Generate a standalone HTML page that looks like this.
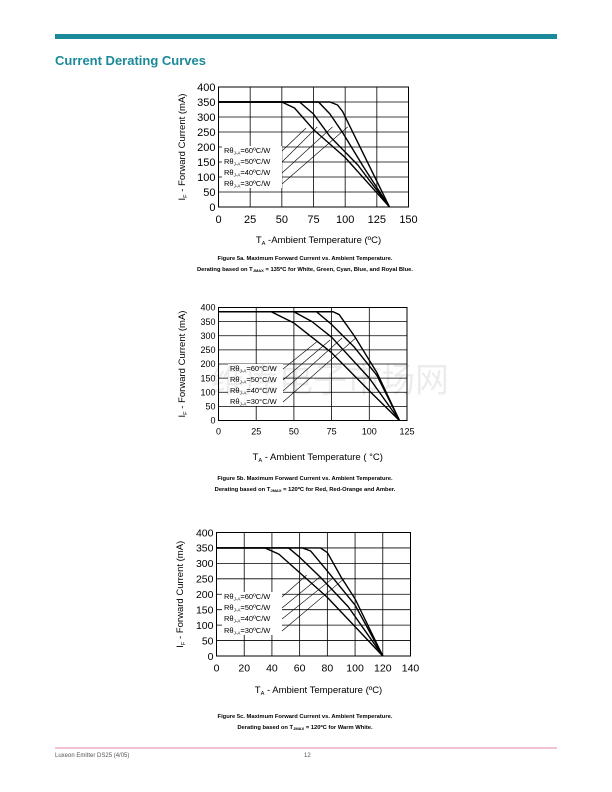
<!DOCTYPE html>
<html><head><meta charset="utf-8"><style>
body{margin:0;background:#fff;}
svg{display:block;font-family:"Liberation Sans","Noto Sans CJK SC",sans-serif;}
</style></head><body>
<svg id="page" width="612" height="792" viewBox="0 0 612 792">
<rect x="0" y="0" width="612" height="792" fill="#fff"/>
<rect x="55" y="34" width="502" height="5" fill="#1a8a9a"/>
<text x="55" y="65" font-size="13" font-weight="bold" fill="#1a8a9a">Current Derating Curves</text>
<line x1="55" y1="748" x2="557" y2="748" stroke="#e05a8a" stroke-width="0.8"/>
<text x="55" y="757" font-size="6" fill="#555">Luxeon Emitter  DS25  (4/05)</text>
<text x="304" y="757" font-size="6" fill="#555">12</text>
<g id="charts"></g>
<text x="330" y="392" font-size="34" fill="#000" opacity="0.07" text-anchor="middle">维库电子市场网</text>
</svg>
<script>
// Chart A (Tjmax 135)
const aXTicks=[0,25,50,75,100,125,150];
const aYTicks=[0,50,100,150,200,250,300,350,400];
const aR60=[[0,350],[50,350],[60,330],[75,258],[100,165],[135,0]];
const aR50=[[0,350],[64,350],[75,310],[88,235],[110,140],[135,0]];
const aR40=[[0,350],[79,350],[88,310],[98,248],[115,130],[135,0]];
const aR30=[[0,350],[88,350],[94,340],[98,318],[135,0]];
const aValues=["=60ºC/W","=50ºC/W","=40ºC/W","=30ºC/W"];
const aLeaders=[[69,263],[78,267],[90,267],[102,267]];
// Chart B (Tjmax 120)
const bXTicks=[0,25,50,75,100,125];
const bYTicks=[0,50,100,150,200,250,300,350,400];
const bR60=[[0,385],[35,385],[50,345],[75,240],[100,105],[120,0]];
const bR50=[[0,385],[50,385],[62,350],[75,295],[100,150],[120,0]];
const bR40=[[0,385],[65,385],[75,340],[90,260],[105,160],[120,0]];
const bR30=[[0,385],[76,385],[80,375],[90,300],[105,170],[120,0]];
const bValues=["=60°C/W","=50°C/W","=40°C/W","=30°C/W"];
const bLeaders=[[65,278],[74,285],[82,292],[91,292]];
// Chart C (Tjmax 120)
const cXTicks=[0,20,40,60,80,100,120,140];
const cYTicks=[0,50,100,150,200,250,300,350,400];
const cR60=[[0,350],[35,350],[45,330],[60,270],[80,190],[120,0]];
const cR50=[[0,350],[52,350],[60,320],[75,255],[95,160],[120,0]];
const cR40=[[0,350],[62,350],[68,340],[80,275],[100,165],[120,0]];
const cR30=[[0,350],[75,350],[80,335],[90,255],[100,185],[120,0]];
const cValues=["=60ºC/W","=50ºC/W","=40ºC/W","=30ºC/W"];
const cLeaders=[[65,262],[74.5,256],[84,252],[92.5,252]];

const NS="http://www.w3.org/2000/svg";
const root=document.getElementById('charts');
function mk(tag,attrs,parent){const e=document.createElementNS(NS,tag);for(const k in attrs)e.setAttribute(k,attrs[k]);(parent||root).appendChild(e);return e;}

function chart(cfg){
  const g=mk('g',{});
  
  
  const xMax=cfg.xt[cfg.xt.length-1], yMax=cfg.yt[cfg.yt.length-1];
  const X=v=>cfg.l+(cfg.r-cfg.l)*v/xMax;
  const Y=v=>cfg.b-(cfg.b-cfg.t)*v/yMax;
  const bg=mk('rect',{x:cfg.l,y:cfg.t,width:cfg.r-cfg.l,height:cfg.b-cfg.t,fill:'#fff',stroke:'#000','stroke-width':1},g);
  
  
  cfg.xt.forEach(v=>{
    const ln=mk('line',{x1:X(v),x2:X(v),y1:cfg.t,y2:cfg.b,stroke:'#000','stroke-width':0.8},g);
    
    
    const tk=mk('text',{x:X(v),y:cfg.b+cfg.fs+5,'font-size':cfg.fs,'text-anchor':'middle'},g);
    tk.textContent=v;
    
    
  });
  cfg.yt.forEach(v=>{
    const ln=mk('line',{x1:cfg.l,x2:cfg.r,y1:Y(v),y2:Y(v),stroke:'#000','stroke-width':0.8},g);
    
    
    const tk=mk('text',{x:cfg.l-3,y:Y(v)+cfg.fs*0.36,'font-size':cfg.fs,'text-anchor':'end'},g);
    tk.textContent=v;
    
    
  });
  const lb=mk('rect',{x:cfg.lx-2,y:cfg.ly[0]-7,width:cfg.lw,height:cfg.ly[3]-cfg.ly[0]+9,fill:'#fff'},g);
  
  
  cfg.series.forEach((s,i)=>{
    const p=mk('polyline',{points:s.map(d=>X(d[0])+','+Y(d[1])).join(' '),fill:'none',stroke:'#000','stroke-width':1.4,'stroke-linejoin':'round'},g);
    
    
  });
  cfg.values.forEach((v,i)=>{
    const t=mk('text',{x:cfg.lx,y:cfg.ly[i],'font-size':7.5},g);
    t.innerHTML='Rθ<tspan font-size="4.5" dy="1.5">J-A</tspan><tspan dy="-1.5">'+v+'</tspan>';
    
    
    const ld=cfg.leaders[i];
    const ln=mk('line',{x1:cfg.lx+cfg.lw-2,y1:cfg.ly[i]-2,x2:X(ld[0]),y2:Y(ld[1]),stroke:'#000','stroke-width':0.6},g);
    
    
  });
  const xt=mk('text',{x:(cfg.l+cfg.r)/2+5,y:cfg.xty,'font-size':cfg.tfs,'text-anchor':'middle'},g);
  xt.innerHTML='T<tspan font-size="'+(cfg.tfs*0.6)+'" dy="2">A</tspan><tspan dy="-2">'+cfg.xtitle+'</tspan>';
  
  
  const cy=(cfg.t+cfg.b)/2;
  const yt=mk('text',{x:0,y:0,'font-size':cfg.tfs,'text-anchor':'middle',transform:'translate('+cfg.ytx+','+cy+') rotate(-90)'},g);
  yt.innerHTML='I<tspan font-size="'+(cfg.tfs*0.6)+'" dy="2">F</tspan><tspan dy="-2">'+cfg.ytitle+'</tspan>';
  
  
  cfg.cap.forEach((c,i)=>{
    const t=mk('text',{x:305,y:cfg.capy+i*11,'font-size':5.8,'font-weight':'bold','text-anchor':'middle'},g);
    t.innerHTML=c;
    
    
  });
}

chart({name:'chart-5a',l:218.5,r:408.5,t:87,b:207,xt:aXTicks,yt:aYTicks,fs:11,tfs:9.5,
  series:[aR60,aR50,aR40,aR30],values:aValues,leaders:aLeaders,lx:224,ly:[153,164,175,186],lw:60,
  xtitle:' -Ambient Temperature (ºC)',xty:243,ytitle:' - Forward Current (mA)',ytx:185,
  cap:['Figure 5a.  Maximum Forward Current vs. Ambient Temperature.','Derating based on T<tspan font-size="4" dy="1">JMAX</tspan><tspan dy="-1"> = 135ºC for White, Green, Cyan, Blue, and Royal Blue.</tspan>'],capy:260});
chart({name:'chart-5b',l:218.5,r:407,t:307.5,b:420.5,xt:bXTicks,yt:bYTicks,fs:9,tfs:9.5,
  series:[bR60,bR50,bR40,bR30],values:bValues,leaders:bLeaders,lx:230,ly:[371,382,393,404],lw:55,
  xtitle:' - Ambient Temperature ( °C)',xty:460,ytitle:' - Forward  Current  (mA)',ytx:185,
  cap:['Figure 5b. Maximum Forward Current vs. Ambient Temperature.','Derating based on T<tspan font-size="4" dy="1">JMAX</tspan><tspan dy="-1"> = 120ºC for Red, Red-Orange and Amber.</tspan>'],capy:480});
chart({name:'chart-5c',l:216.5,r:410.5,t:532.5,b:656,xt:cXTicks,yt:cYTicks,fs:10.5,tfs:9.5,
  series:[cR60,cR50,cR40,cR30],values:cValues,leaders:cLeaders,lx:224,ly:[599,610,621,633],lw:60,
  xtitle:' - Ambient Temperature (ºC)',xty:693,ytitle:' - Forward Current (mA)',ytx:183,
  cap:['Figure 5c.  Maximum Forward Current vs. Ambient Temperature.','Derating based on T<tspan font-size="4" dy="1">JMAX</tspan><tspan dy="-1"> = 120ºC for Warm White.</tspan>'],capy:718});
</script>
</body></html>
